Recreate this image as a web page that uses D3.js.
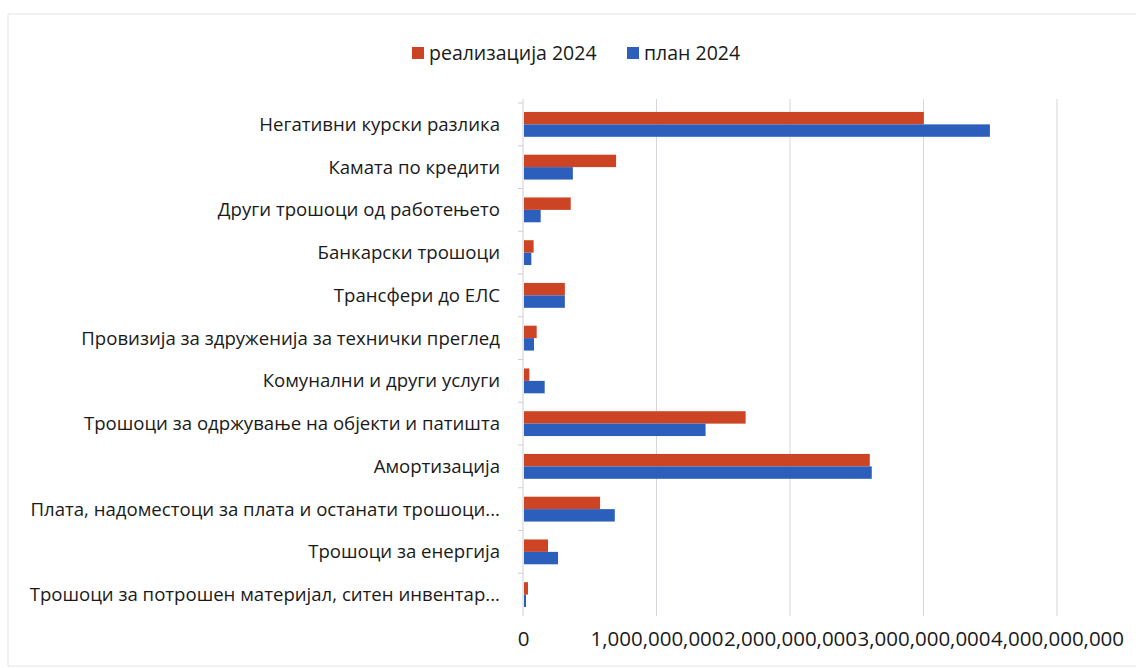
<!DOCTYPE html>
<html>
<head>
<meta charset="utf-8">
<script src="https://cdn.jsdelivr.net/npm/d3@7"></script>
<style>
  html, body { margin: 0; padding: 0; background: #fff; }
  svg { display: block; }
  text { font-family: "Open Sans", "Noto Sans", sans-serif; fill: #1a1a1a; }
</style>
</head>
<body>
<svg id="chart" width="1136" height="668"></svg>
<script>
// ---- data ----
const categories = [
  "Негативни курски разлика",
  "Камата по кредити",
  "Други трошоци од работењето",
  "Банкарски трошоци",
  "Трансфери до ЕЛС",
  "Провизија за здруженија за технички преглед",
  "Комунални и други услуги",
  "Трошоци за одржување на објекти и патишта",
  "Амортизација",
  "Плата, надоместоци за плата и останати трошоци...",
  "Трошоци за енергија",
  "Трошоци за потрошен материјал, ситен инвентар..."
];
const realizacija2024 = [2995e6, 690e6, 350e6, 72e6, 306e6, 95e6, 40e6, 1660e6, 2590e6, 570e6, 180e6, 30e6];
const plan2024        = [3490e6, 366e6, 125e6, 55e6, 306e6, 75e6, 155e6, 1360e6, 2605e6, 680e6, 255e6, 15e6];
const seriesNames = ["реализација 2024", "план 2024"];
const xTicks = [0, 1e9, 2e9, 3e9, 4e9];

const colors = ["#cc4424", "#2c5fbb"];

const svg = d3.select("#chart");

// faint scan frame
svg.append("rect").attr("x", 8).attr("y", 14).attr("width", 1140).attr("height", 652)
  .attr("fill", "none").attr("stroke", "#e4e4ea").attr("stroke-width", 1);

const x = d3.scaleLinear().domain([0, 4e9]).range([523, 1057]);
const y = d3.scaleBand().domain(categories).range([103, 616]).paddingInner(0).paddingOuter(0);
const ySub = d3.scaleBand().domain(seriesNames).range([0, y.bandwidth()]).paddingInner(0).paddingOuter(0.72);

// gridlines
svg.append("g").selectAll("line").data(xTicks.slice(1)).join("line")
  .attr("x1", d => x(d)).attr("x2", d => x(d))
  .attr("y1", 99).attr("y2", 616)
  .attr("stroke", "#d6d6dc").attr("stroke-width", 1);

// left axis line with category boundary ticks
svg.append("line").attr("x1", x(0)).attr("x2", x(0)).attr("y1", 99).attr("y2", 616)
  .attr("stroke", "#cfcfd6");
svg.append("g").selectAll("line").data(categories).join("line")
  .attr("x1", x(0) - 5).attr("x2", x(0))
  .attr("y1", d => y(d)).attr("y2", d => y(d))
  .attr("stroke", "#cfcfd6");

// bars
const data = categories.map((c, i) => ({ c, vals: [realizacija2024[i], plan2024[i]] }));
const groups = svg.append("g").selectAll("g").data(data).join("g")
  .attr("transform", d => `translate(0,${y(d.c)})`);
groups.selectAll("rect").data(d => d.vals.map((v, k) => ({ v, k }))).join("rect")
  .attr("x", x(0) + 1)
  .attr("y", d => ySub(seriesNames[d.k]))
  .attr("width", d => Math.max(1, x(d.v) - x(0)))
  .attr("height", ySub.bandwidth())
  .attr("fill", d => colors[d.k]);

// category labels
svg.append("g").selectAll("text").data(categories).join("text")
  .attr("x", 500)
  .attr("y", d => y(d) + y.bandwidth() / 2)
  .attr("dy", "0.35em")
  .attr("text-anchor", "end")
  .attr("font-size", 18.6)
  .text(d => d);

// x axis labels
const fmt = d3.format(",");
const xAxis = d3.axisBottom(x).tickValues(xTicks).tickFormat(fmt).tickSize(0).tickPadding(0);
const gx = svg.append("g").attr("transform", "translate(0,631)").call(xAxis);
gx.select(".domain").remove();
gx.selectAll("text").attr("font-size", 20.5).attr("font-family", '"Open Sans", sans-serif').attr("fill", "#1a1a1a");

// legend
const legend = svg.append("g");
const legX = [412, 627];
seriesNames.forEach((name, k) => {
  legend.append("rect").attr("x", legX[k]).attr("y", 47).attr("width", 12).attr("height", 12).attr("fill", colors[k]);
  legend.append("text").attr("x", legX[k] + 17).attr("y", 60).attr("font-size", 19.5).text(name);
});
</script>
</body>
</html>
